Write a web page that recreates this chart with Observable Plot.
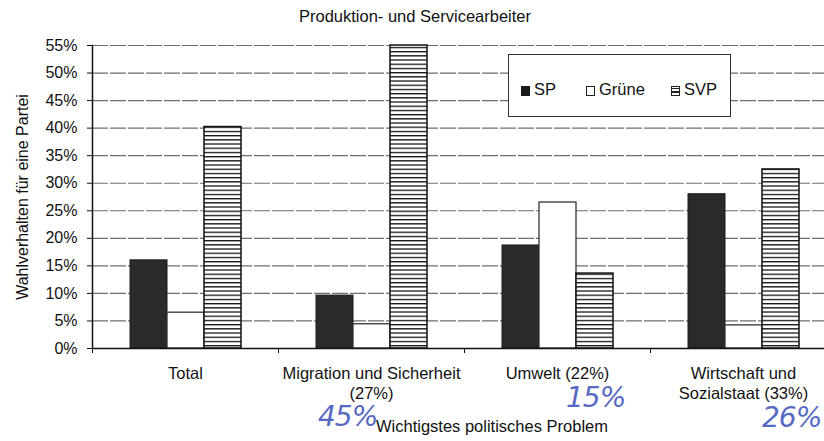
<!DOCTYPE html>
<html>
<head>
<meta charset="utf-8">
<script src="https://cdn.jsdelivr.net/npm/d3@7"></script>
<script src="https://cdn.jsdelivr.net/npm/@observablehq/plot@0.6"></script>
<style>
  body { margin: 0; background: #fff; font-family: "Liberation Sans", Arial, sans-serif; color: #111; }
  #wrap { position: relative; width: 824px; height: 441px; overflow: hidden; background: #fff; }
  #title { height: 30px; width: 830px; text-align: center; font-size: 16.5px; line-height: 16px; padding-top: 8px; box-sizing: border-box; }
  #chart svg { display: block; max-width: none !important; width: 844px !important; height: 411px !important; }
  #legend { position: absolute; left: 508px; top: 54px; width: 223px; height: 63px; box-sizing: border-box;
            border: 1.5px solid #333; background: #fff; font-size: 16.5px; }
  #legend .item { position: absolute; top: 26px; line-height: 16px; white-space: nowrap; }
  #legend .sw { display: inline-block; width: 9px; height: 10px; box-sizing: border-box; margin-right: 4px; vertical-align: -1px; }
  .hand { position: absolute; color: #3a50b8; font-family: "DejaVu Sans", sans-serif; font-weight: 200; font-style: italic; font-size: 28px; line-height: 28px; letter-spacing: -1px; opacity: 0.85; }
</style>
</head>
<body>
<div id="wrap">
  <div id="title">Produktion- und Servicearbeiter</div>
  <div id="chart"></div>
  <div id="legend"></div>
</div>
<script>
// ---- data ----
const categories = ["Total", "Migration und Sicherheit (27%)", "Umwelt (22%)", "Wirtschaft und Sozialstaat (33%)"];
const categoryLabels = ["Total", "Migration und Sicherheit\n(27%)", "Umwelt (22%)", "Wirtschaft und\nSozialstaat (33%)"];
const parties = ["SP", "Grüne", "SVP"];
const spValues = [16, 9.6, 18.7, 28];
const grueneValues = [6.5, 4.4, 26.5, 4.2];
const svpValues = [40.2, 55, 13.6, 32.5];
const yTicks = [0, 5, 10, 15, 20, 25, 30, 35, 40, 45, 50, 55];
const yLabel = "Wahlverhalten für eine Partei";
const xLabel = "Wichtigstes politisches Problem";
const handNotes = ["45%", "15%", "26%"];

// ---- build table ----
const seriesValues = {"SP": spValues, "Grüne": grueneValues, "SVP": svpValues};
const rows = [];
parties.forEach(p => categories.forEach((c, i) => rows.push({party: p, category: c, value: seriesValues[p][i]})));
const labelOf = new Map(categories.map((c, i) => [c, categoryLabels[i]]));

const W = 844, H = 411, mL = 92, mR = 8;
const step = (W - mL - mR) / categories.length;

const svg = Plot.plot({
  width: W, height: H,
  marginTop: 15, marginBottom: 93, marginLeft: mL, marginRight: mR,
  style: {fontFamily: "'Liberation Sans', Arial, sans-serif", fontSize: "16px", color: "#111", background: "transparent", maxWidth: "none"},
  fx: {domain: categories, padding: 0, axis: null},
  x: {domain: parties, paddingInner: 0, paddingOuter: 1, axis: null},
  y: {domain: [0, 55], axis: null},
  marks: [
    Plot.gridY(yTicks, {stroke: "#555", strokeOpacity: 0.85, strokeWidth: 1.2, strokeDasharray: "16 2"}),
    Plot.barY(rows.filter(d => d.party === "SP"), {fx: "category", x: "party", y: "value", fill: "#2a2a2a", stroke: "#1a1a1a", strokeWidth: 1}),
    Plot.barY(rows.filter(d => d.party === "Grüne"), {fx: "category", x: "party", y: "value", fill: "#fff", stroke: "#333", strokeWidth: 1.3}),
    Plot.barY(rows.filter(d => d.party === "SVP"), {fx: "category", x: "party", y: "value", fill: "url(#svpStripes)", stroke: "#111", strokeWidth: 1.5}),
    Plot.ruleY([0], {stroke: "#111", strokeWidth: 1.5}),
    Plot.frame({anchor: "left", facet: "super", stroke: "#111", strokeWidth: 1.5}),
    Plot.axisY(yTicks, {tickSize: 5, tickPadding: 10, tickFormat: d => d + "%", fontSize: 16, stroke: "#111",
      label: yLabel, labelAnchor: "center", labelArrow: "none", labelOffset: 76}),
    Plot.axisFx({anchor: "bottom", tickSize: 0, tickPadding: 16, tickFormat: d => labelOf.get(d), fontSize: 16.5, lineHeight: 1.22, label: null}),
    Plot.axisFx({anchor: "bottom", tickSize: 5, tickFormat: () => "", dx: -step / 2, label: null, stroke: "#111"})
  ]
});

// stripe pattern for SVP
const defs = d3.select(svg).insert("defs", ":first-child");
const pat = defs.append("pattern").attr("id", "svpStripes").attr("patternUnits", "userSpaceOnUse")
  .attr("width", 8).attr("height", 4.2);
pat.append("rect").attr("width", 8).attr("height", 4.2).attr("fill", "#fff");
pat.append("rect").attr("y", 0).attr("width", 8).attr("height", 1.3).attr("fill", "#111");

document.getElementById("chart").appendChild(svg);

// x axis title (below plot)
const xt = document.createElement("div");
xt.textContent = xLabel;
Object.assign(xt.style, {position: "absolute", left: "492px", top: "418px", transform: "translateX(-50%)", fontSize: "16.5px", lineHeight: "16px", whiteSpace: "nowrap"});
document.getElementById("wrap").appendChild(xt);

// legend
const legend = document.getElementById("legend");
const swatchStyles = {
  "SP": "background:#1a1a1a;",
  "Grüne": "background:#fff;border:1.3px solid #222;",
  "SVP": "background:repeating-linear-gradient(#fff 0 1px,#222 1px 2.3px,#fff 2.3px 3.3px);border:1.3px solid #222;"
};
const legendLeft = [12, 77, 162];
parties.forEach((p, i) => {
  const it = document.createElement("div");
  it.className = "item";
  it.style.left = legendLeft[i] + "px";
  it.innerHTML = `<span class="sw" style="${swatchStyles[p]}"></span>${p}`;
  legend.appendChild(it);
});

// handwritten notes
const handPos = [[318, 403], [566, 384], [762, 404]];
handNotes.forEach((t, i) => {
  const h = document.createElement("div");
  h.className = "hand";
  h.textContent = t;
  h.style.left = handPos[i][0] + "px";
  h.style.top = handPos[i][1] + "px";
  document.getElementById("wrap").appendChild(h);
});
</script>
</body>
</html>
